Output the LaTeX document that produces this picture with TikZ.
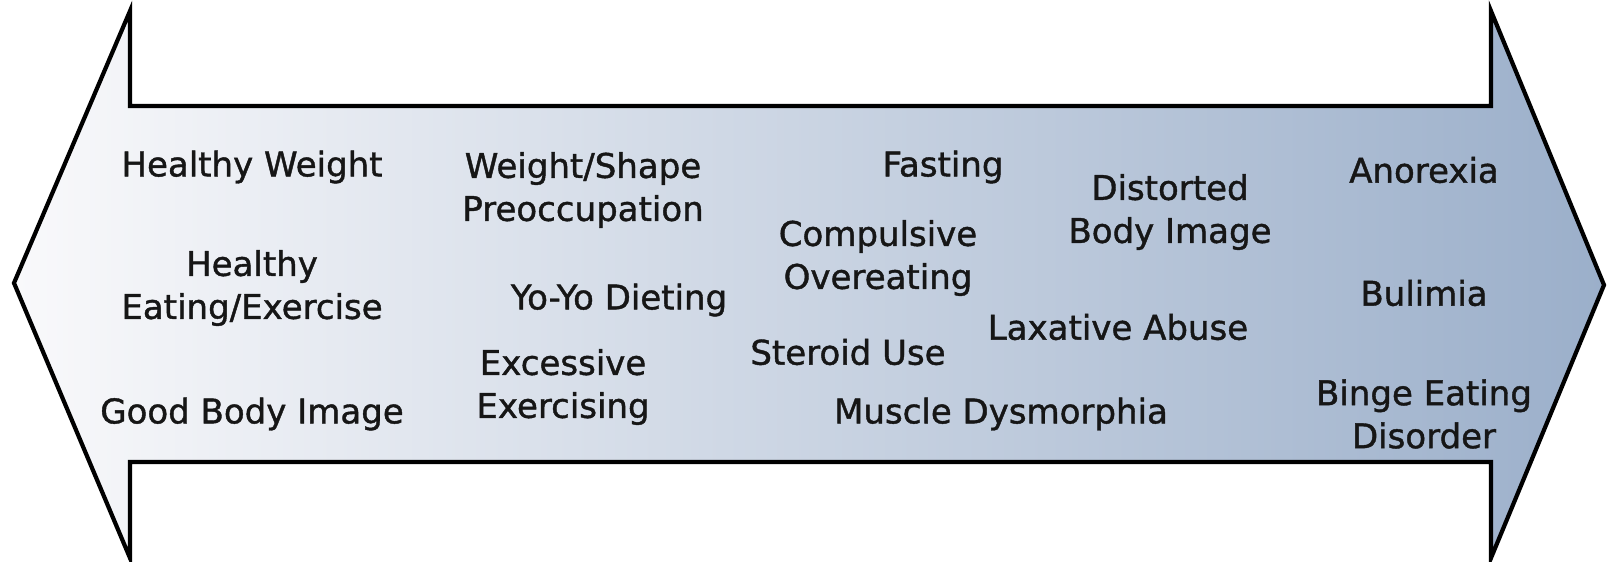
\documentclass[tikz,border=0pt]{standalone}
\usepackage{fontspec}
\setmainfont[FakeBold=1.2]{DejaVu Sans}
\usepackage{tikz}

\definecolor{arrowleft}{RGB}{249,249,251}
\definecolor{arrowright}{RGB}{155,175,202}
\definecolor{labeltext}{RGB}{22,22,22}

\begin{document}
\begin{tikzpicture}[x=1pt,y=-1pt]
            \useasboundingbox (0,0) rectangle (1610,562);
            \draw[line width=4.2pt, line join=miter, left color=arrowleft, right color=arrowright]
                (14,283) -- (130,11) -- (130,106) -- (1491,106) -- (1491,11)
                -- (1604,285) -- (1491,558) -- (1491,462) -- (130,462) -- (130,558) -- cycle;
            \begin{scope}[every node/.style={align=center, inner sep=0pt, text=labeltext, font=\fontsize{34}{43}\selectfont}]
                \node (1) at (252,167) {Healthy Weight};
                \node (2) at (252,288) {Healthy\\Eating/Exercise};
                \node (3) at (252,414) {Good Body Image};

                \node (4) at (583,190) {Weight/Shape\\Preoccupation};
                \node (5) at (619,300) {Yo-Yo Dieting};
                \node (6) at (563,387) {Excessive\\Exercising};

                \node (7) at (943,167) {Fasting};
                \node (8) at (878,258) {Compulsive\\Overeating};
                \node (9) at (848,352) {Steroid Use};
                \node (10) at (1001,414) {Muscle Dysmorphia};

                \node (11) at (1170,212) {Distorted\\Body Image};
                \node (12) at (1118,327) {Laxative Abuse};

                \node (13) at (1424,170) {Anorexia};
                \node (14) at (1424,293) {Bulimia};
                \node (15) at (1424,414) {Binge Eating\\Disorder};
            \end{scope}
        \end{tikzpicture}
\end{document}
